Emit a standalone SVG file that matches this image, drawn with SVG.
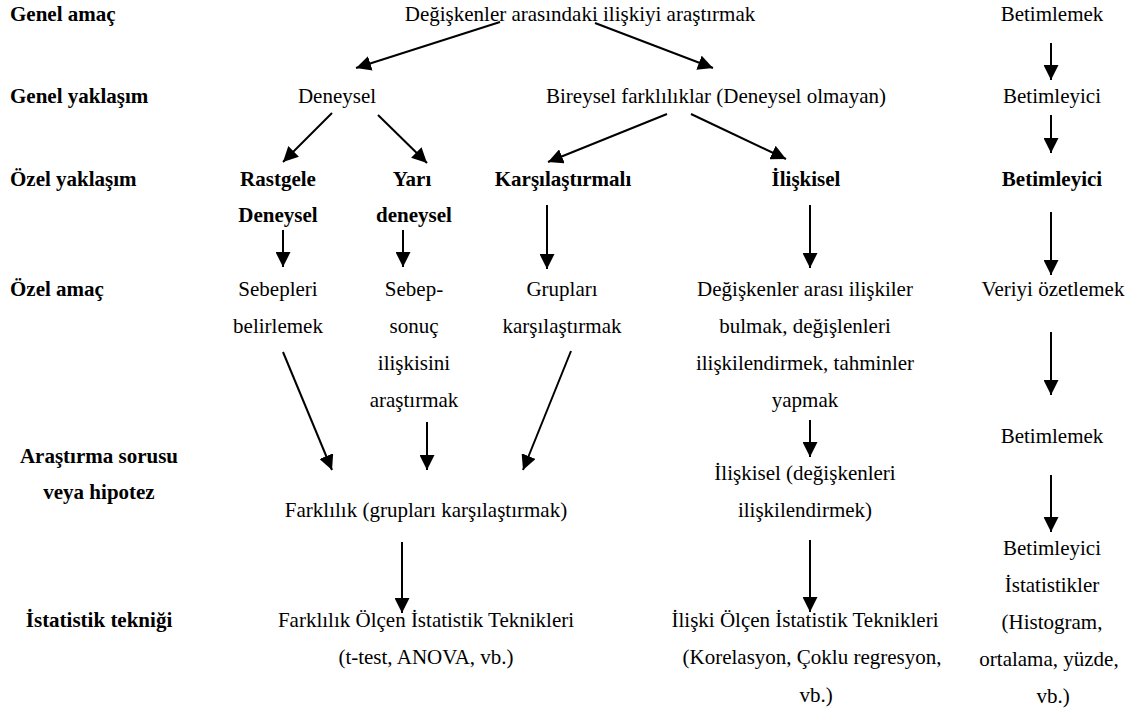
<svg xmlns="http://www.w3.org/2000/svg" width="1134" height="711" viewBox="0 0 1134 711">
<style>
text{font-size:21px;fill:#000}
.b{font-weight:bold}
.c{text-anchor:middle}
.e line{stroke:#000;stroke-width:2;marker-end:url(#ah)}
</style>
<defs>
<marker id="ah" markerUnits="userSpaceOnUse" markerWidth="15" markerHeight="15" refX="15" refY="7.5" orient="auto" viewBox="0 0 15 15">
<path d="M0,0 L15,7.5 L0,15 z" fill="#000"/>
</marker>
</defs>
<rect width="1134" height="711" fill="#fff"/>
<g font-family="Liberation Serif">
<g id="labels">
<text class="b" x="10" y="21">Genel amaç</text>
<text class="b" x="10" y="103">Genel yaklaşım</text>
<text class="b" x="10" y="186">Özel yaklaşım</text>
<text class="b" x="10" y="296">Özel amaç</text>
<text class="b c" x="99" y="463">Araştırma sorusu</text>
<text class="b c" x="99" y="499">veya hipotez</text>
<text class="b c" x="99" y="627">İstatistik tekniği</text>
</g>
<g id="n-top"><text class="c" x="580" y="21">Değişkenler arasındaki ilişkiyi araştırmak</text></g>
<g id="n-deneysel"><text class="c" x="337" y="103">Deneysel</text></g>
<g id="n-bireysel"><text class="c" x="716" y="103">Bireysel farklılıklar (Deneysel olmayan)</text></g>
<g id="n-rastgele"><text class="b c" x="278" y="186">Rastgele</text><text class="b c" x="278" y="222">Deneysel</text></g>
<g id="n-yari"><text class="b c" x="412" y="186">Yarı</text><text class="b c" x="414" y="222">deneysel</text></g>
<g id="n-karsilastirmali"><text class="b c" x="563" y="186">Karşılaştırmalı</text></g>
<g id="n-iliskisel"><text class="b c" x="806" y="186">İlişkisel</text></g>
<g id="n-sebepleri"><text class="c" x="278" y="296">Sebepleri</text><text class="c" x="278" y="333">belirlemek</text></g>
<g id="n-sebepsonuc"><text class="c" x="414" y="296">Sebep-</text><text class="c" x="414" y="333">sonuç</text><text class="c" x="414" y="370">ilişkisini</text><text class="c" x="414" y="407">araştırmak</text></g>
<g id="n-gruplari"><text class="c" x="562" y="296">Grupları</text><text class="c" x="562" y="333">karşılaştırmak</text></g>
<g id="n-degiskenler"><text class="c" x="805" y="296">Değişkenler arası ilişkiler</text><text class="c" x="805" y="333">bulmak, değişlenleri</text><text class="c" x="805" y="370">ilişkilendirmek, tahminler</text><text class="c" x="805" y="407">yapmak</text></g>
<g id="n-farklilik"><text class="c" x="426" y="517">Farklılık (grupları karşılaştırmak)</text></g>
<g id="n-iliskisel2"><text class="c" x="805" y="480">İlişkisel (değişkenleri</text><text class="c" x="805" y="517">ilişkilendirmek)</text></g>
<g id="n-farklilik-olcen"><text class="c" x="426" y="627">Farklılık Ölçen İstatistik Teknikleri</text><text class="c" x="426" y="664">(t-test, ANOVA, vb.)</text></g>
<g id="n-iliski-olcen"><text class="c" x="805" y="627">İlişki Ölçen İstatistik Teknikleri</text><text class="c" x="812" y="664">(Korelasyon, Çoklu regresyon,</text><text class="c" x="816" y="702">vb.)</text></g>
<g id="n-r1"><text class="c" x="1052" y="21">Betimlemek</text></g>
<g id="n-r2"><text class="c" x="1052" y="103">Betimleyici</text></g>
<g id="n-r3"><text class="b c" x="1052" y="186">Betimleyici</text></g>
<g id="n-r4"><text class="c" x="1053" y="296">Veriyi özetlemek</text></g>
<g id="n-r5"><text class="c" x="1052" y="443">Betimlemek</text></g>
<g id="n-r6"><text class="c" x="1052" y="555">Betimleyici</text><text class="c" x="1052" y="592">İstatistikler</text><text class="c" x="1052" y="629">(Histogram,</text><text class="c" x="1049" y="666">ortalama, yüzde,</text><text class="c" x="1053" y="703">vb.)</text></g>
</g>
<g id="connectors" class="e">
<line x1="500" y1="22" x2="356" y2="68"/>
<line x1="595" y1="23" x2="713" y2="68"/>
<line x1="332" y1="113" x2="283" y2="162"/>
<line x1="378" y1="115" x2="427" y2="163"/>
<line x1="667" y1="114" x2="548" y2="162"/>
<line x1="691" y1="114" x2="786" y2="159"/>
<line x1="1051" y1="43" x2="1051" y2="80"/>
<line x1="1051" y1="115" x2="1051" y2="153"/>
<line x1="283" y1="230" x2="283" y2="267"/>
<line x1="403" y1="230" x2="403" y2="267"/>
<line x1="547" y1="205" x2="547" y2="269"/>
<line x1="810" y1="205" x2="810" y2="268"/>
<line x1="1051" y1="212" x2="1051" y2="275"/>
<line x1="283" y1="352" x2="332" y2="470"/>
<line x1="427" y1="422" x2="427" y2="470"/>
<line x1="571" y1="351" x2="523" y2="470"/>
<line x1="810" y1="420" x2="810" y2="457"/>
<line x1="1051" y1="332" x2="1051" y2="395"/>
<line x1="1051" y1="475" x2="1051" y2="532"/>
<line x1="402" y1="542" x2="402" y2="613"/>
<line x1="810" y1="540" x2="810" y2="612"/>
</g>
</svg>
